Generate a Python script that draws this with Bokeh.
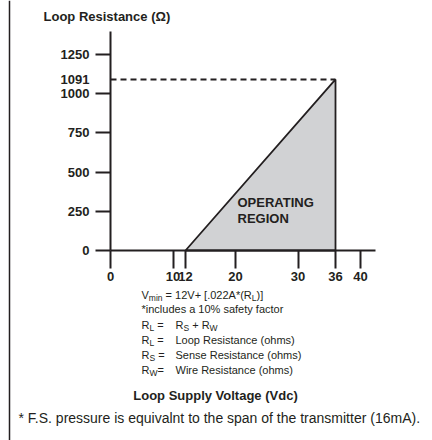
from bokeh.plotting import figure
from bokeh.models import Label, FixedTicker, Range1d, Span
from bokeh.embed import file_html
from bokeh.resources import INLINE

# ---- data ----
y_ticks = [0, 250, 500, 750, 1000, 1250]
x_ticks = [0, 10, 12, 20, 30, 36, 40]
region_v = [12, 36, 36]          # Loop supply voltage (Vdc)
region_r = [0, 0, 1091]          # Loop resistance (ohms)
r_max = 1091
v_max = 36

INK = "#231f20"
FONT = "Liberation Sans"

W, H = 432, 440
# reference-pixel geometry: origin of the chart and scale
OX, OY = 110, 250            # pixel position of (0 V, 0 ohm)
PX_PER_V = 6.25
PX_PER_R = 196 / 1250
X_END = 42.4                 # end of the drawn voltage axis
Y_END = 1396.7               # end of the drawn resistance axis

p = figure(width=W, height=H, output_backend="svg", toolbar_location=None,
           x_range=Range1d(-OX / PX_PER_V, (W - OX) / PX_PER_V),
           y_range=Range1d(-(H - OY) / PX_PER_R, OY / PX_PER_R),
           min_border=0, min_border_left=0, min_border_right=0,
           min_border_top=0, min_border_bottom=0)
p.grid.visible = False
p.outline_line_color = None
p.background_fill_color = "white"
p.border_fill_color = "white"

for ax in (p.xaxis[0], p.yaxis[0]):
    ax.fixed_location = 0
    ax.axis_line_color = INK
    ax.axis_line_width = 2
    ax.major_tick_line_color = INK
    ax.major_tick_line_width = 2
    ax.major_tick_in = 0
    ax.minor_tick_line_color = None
    ax.major_label_text_font = FONT
    ax.major_label_text_font_style = "bold"
    ax.major_label_text_font_size = "13px"
    ax.major_label_text_color = INK

p.xaxis.ticker = FixedTicker(ticks=x_ticks)
p.xaxis.bounds = (0, X_END)
p.xaxis.major_tick_out = 18
p.xaxis.major_label_standoff = 3
p.yaxis.ticker = FixedTicker(ticks=y_ticks)
p.yaxis.bounds = (0, Y_END)
p.yaxis.major_tick_out = 15
p.yaxis.major_label_standoff = 6

# operating region
p.patch(region_v, region_r, fill_color="#d1d2d4", line_color=INK, line_width=1.8)
# dashed max-resistance line
p.line([0, v_max], [r_max, r_max], line_color=INK, line_width=2, line_dash="6 4")

# left border rule of the panel
p.add_layout(Span(location=(9 - OX) / PX_PER_V, dimension="height",
                  line_color=INK, line_width=1.5))


def lab(text, rx, ry, size="11px", bold=False, align="left", baseline="middle"):
    p.add_layout(Label(x=rx, y=H - ry, x_units="screen", y_units="screen",
                       text=text, text_font=FONT, text_font_size=size,
                       text_font_style="bold" if bold else "normal",
                       text_color=INK, text_align=align, text_baseline=baseline))


# Arial/Liberation Sans advance widths (per 1000 em)
WID = {" ": 278, "=": 584, "+": 584, "[": 278, "]": 278, ".": 278, "*": 389,
       "(": 333, ")": 333, "V": 667, "A": 667, "R": 722, "L": 556, "S": 667,
       "W": 944, "m": 833, "i": 222, "n": 556}


def width(s, size):
    return sum(WID.get(c, 556) for c in s) * size / 1000.0


def seg(rx, base_y, parts, size=11, sub=8.5, drop=3):
    x = rx
    for txt, is_sub in parts:
        fs = sub if is_sub else size
        while txt.startswith(" "):
            x += width(" ", fs)
            txt = txt[1:]
        lab(txt, x, base_y + (drop if is_sub else 0), size=f"{fs}px", baseline="alphabetic")
        x += width(txt, fs)


lab("Loop Resistance (\u03a9)", 43, 15.5, size="13px", bold=True)
lab(str(r_max), 89, 79, size="13px", bold=True, align="right")
lab("OPERATING", 237, 202, size="13px", bold=True)
lab("REGION", 237, 218, size="13px", bold=True)

X0 = 141
XT = 175
seg(X0, 294, [("V", 0), ("min", 1), (" = 12V+ [.022A*(R", 0), ("L", 1), (")]", 0)])
lab("*includes a 10% safety factor", X0, 308, baseline="alphabetic")
seg(X0, 324, [("R", 0), ("L", 1), (" =", 0)])
seg(XT, 324, [("R", 0), ("S", 1), (" + R", 0), ("W", 1)])
seg(X0, 339, [("R", 0), ("L", 1), (" =", 0)])
lab("Loop Resistance (ohms)", XT, 339, baseline="alphabetic")
seg(X0, 354, [("R", 0), ("S", 1), (" =", 0)])
lab("Sense Resistance (ohms)", XT, 354, baseline="alphabetic")
seg(X0, 369, [("R", 0), ("W", 1), ("=", 0)])
lab("Wire Resistance (ohms)", XT, 369, baseline="alphabetic")

lab("Loop Supply Voltage (Vdc)", 215, 395, size="13px", bold=True, align="center")
lab("* F.S. pressure is equivalnt to the span of the transmitter (16mA).", 18, 417,
    size="14px")

open("out.html", "w").write(file_html(p, INLINE))
